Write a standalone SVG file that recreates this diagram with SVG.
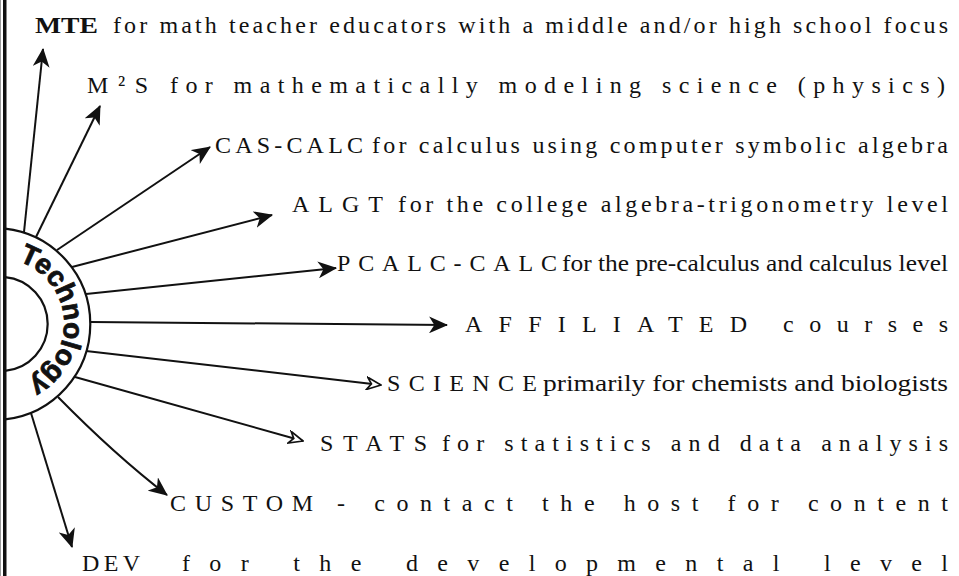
<svg xmlns="http://www.w3.org/2000/svg" width="959" height="576" viewBox="0 0 959 576">
<style>
.t{font-family:"Liberation Serif","Times New Roman",serif;font-size:24px;fill:#111}
.b{font-weight:bold}
.ring{fill:none;stroke:#111;stroke-width:2.2}
.c{stroke:#111;stroke-width:2;fill:none}
.tech{font-family:"Liberation Sans",Arial,sans-serif;font-weight:bold;font-size:28px;fill:#111;stroke:#111;stroke-width:0.8}
</style>
<defs>
<marker id="ah" viewBox="0 0 18 16" refX="17" refY="8" markerWidth="19" markerHeight="17" markerUnits="userSpaceOnUse" orient="auto">
<path d="M0,0 L18,8 L0,16 L5,8 Z" fill="#111"/>
</marker>
<marker id="ah2" viewBox="0 0 18 16" refX="17" refY="8" markerWidth="16" markerHeight="14" markerUnits="userSpaceOnUse" orient="auto">
<path d="M1,1 L17,8 L1,15 L6,8 Z" fill="#fff" stroke="#111" stroke-width="2"/>
</marker>
<path id="arc" d="M18.4,261.2 A66,66 0 0 1 3.75,389.75"/>
</defs>
<rect width="959" height="576" fill="#fff"/>
<line x1="0.5" y1="0" x2="0.5" y2="576" stroke="#999" stroke-width="1"/>
<rect x="3" y="0" width="3.5" height="576" fill="#111"/>

<g id="hub">
<path class="ring" d="M5,228.6 A96,96 0 0 1 5,419.4"/>
<path class="ring" d="M5,277.2 A47,47 0 0 1 5,370.8"/>
<text class="tech"><textPath href="#arc">Technology</textPath></text>
</g>

<g id="connectors">
<line class="c" x1="24" y1="232" x2="43" y2="49" marker-end="url(#ah)"/>
<line class="c" x1="36" y1="237" x2="100" y2="106" marker-end="url(#ah)"/>
<line class="c" x1="57" y1="250" x2="210" y2="147" marker-end="url(#ah)"/>
<line class="c" x1="72" y1="267" x2="272" y2="215" marker-end="url(#ah)"/>
<line class="c" x1="86" y1="294" x2="336" y2="268" marker-end="url(#ah)"/>
<line class="c" x1="91" y1="322" x2="447" y2="325" marker-end="url(#ah)"/>
<line class="c" x1="86" y1="351" x2="381" y2="385" marker-end="url(#ah2)"/>
<line class="c" x1="75" y1="377" x2="303" y2="441" marker-end="url(#ah2)"/>
<path class="c" d="M58,397 Q115,455 167,495" marker-end="url(#ah)"/>
<line class="c" x1="31" y1="413" x2="72" y2="547" marker-end="url(#ah)"/>
</g>

<g id="mte">
<text class="t b" x="35" y="33" textLength="63" lengthAdjust="spacingAndGlyphs">MTE</text>
<text class="t" x="113" y="33" textLength="835" lengthAdjust="spacing">for math teacher educators with a middle and/or high school focus</text>
</g>
<g id="m2s">
<text class="t" x="87" y="93" textLength="61" lengthAdjust="spacing">M²S</text>
<text class="t" x="170" y="93" textLength="775" lengthAdjust="spacing">for mathematically modeling science (physics)</text>
</g>
<g id="cascalc">
<text class="t" x="215" y="153" textLength="148" lengthAdjust="spacing">CAS-CALC</text>
<text class="t" x="372" y="153" textLength="576" lengthAdjust="spacing">for calculus using computer symbolic algebra</text>
</g>
<g id="algt">
<text class="t" x="292" y="212" textLength="91" lengthAdjust="spacing">ALGT</text>
<text class="t" x="398" y="212" textLength="550" lengthAdjust="spacing">for the college algebra-trigonometry level</text>
</g>
<g id="pcalc">
<text class="t" x="337" y="271" textLength="220" lengthAdjust="spacing">PCALC-CALC</text>
<text class="t" x="562" y="271" textLength="386" lengthAdjust="spacingAndGlyphs">for the pre-calculus and calculus level</text>
</g>
<g id="affiliated">
<text class="t" x="465" y="332" textLength="282" lengthAdjust="spacing">AFFILIATED</text>
<text class="t" x="783" y="332" textLength="165" lengthAdjust="spacing">courses</text>
</g>
<g id="science">
<text class="t" x="387" y="391" textLength="150" lengthAdjust="spacing">SCIENCE</text>
<text class="t" x="543" y="391" textLength="405" lengthAdjust="spacingAndGlyphs">primarily for chemists and biologists</text>
</g>
<g id="stats">
<text class="t" x="320" y="451" textLength="107" lengthAdjust="spacing">STATS</text>
<text class="t" x="442" y="451" textLength="506" lengthAdjust="spacing">for statistics and data analysis</text>
</g>
<g id="custom">
<text class="t" x="170" y="511" textLength="143" lengthAdjust="spacing">CUSTOM</text>
<text class="t" x="337" y="511" textLength="611" lengthAdjust="spacing">- contact the host for content</text>
</g>
<g id="dev">
<text class="t" x="82" y="571" textLength="58" lengthAdjust="spacing">DEV</text>
<text class="t" x="182" y="571" textLength="766" lengthAdjust="spacing">for the developmental level</text>
</g>
</svg>
